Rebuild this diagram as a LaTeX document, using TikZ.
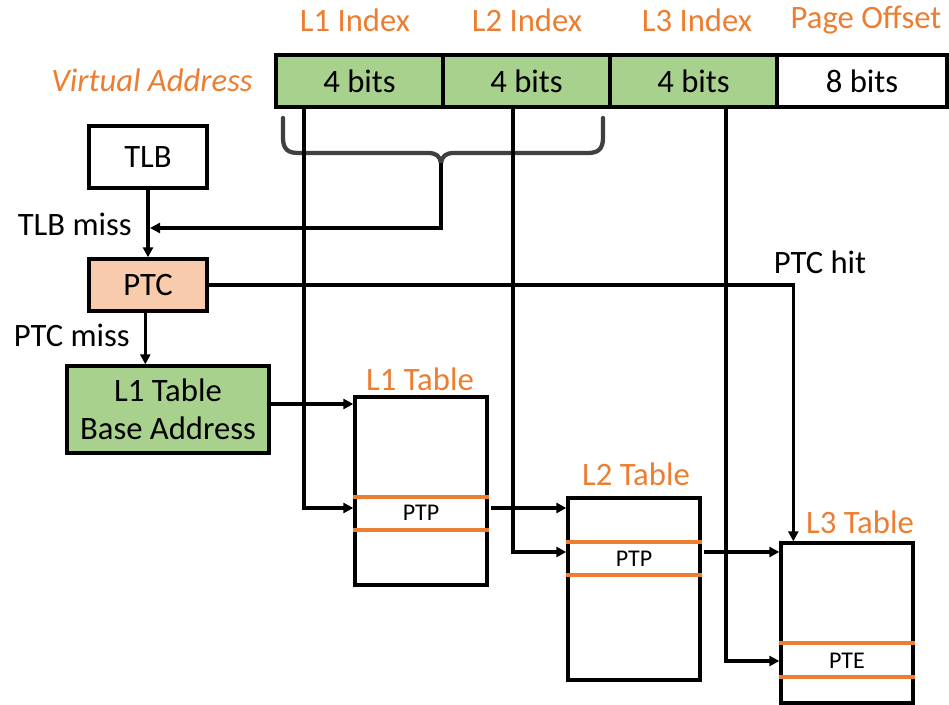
\documentclass[tikz,border=0pt]{standalone}
\usepackage{fontspec}
\setmainfont{Carlito}
\usetikzlibrary{arrows.meta}
\definecolor{vorange}{HTML}{ED7D31}
\definecolor{vgreen}{HTML}{A9D18E}
\definecolor{vpeach}{HTML}{F8CBAD}
\definecolor{bracegray}{HTML}{404040}
\tikzset{
  box/.style={draw=black, line width=2.5pt, inner sep=0pt, align=center, font=\fontsize{24.5}{28.8}\selectfont},
  cell/.style={box, minimum width=125.25pt, minimum height=39pt},
  tablebox/.style={draw=black, line width=2.5pt, minimum width=99pt, inner sep=0pt},
  arr/.style={line width=2.5pt, -{Triangle[length=7.5pt,width=7.5pt]}},
  rowline/.style={draw=vorange, line width=2.5pt},
  lbl/.style={inner sep=0pt, font=\fontsize{24.5}{28.8}\selectfont},
  olbl/.style={lbl, text=vorange},
  small/.style={inner sep=0pt, font=\fontsize{18}{21}\selectfont},
  brace/.style={draw=bracegray, line width=3.2pt, line cap=round, line join=round}
}
\begin{document}
\begin{tikzpicture}[x=0.75pt,y=-0.75pt]
\useasboundingbox (0,0) rectangle (949,705);

% virtual address bar
\node[cell, fill=vgreen] (c1) at (359.5,81) {4 bits};
\node[cell, fill=vgreen] (c2) at (526.5,81) {4 bits};
\node[cell, fill=vgreen] (c3) at (693.5,81) {4 bits};
\node[cell, fill=white, minimum width=127.5pt] (c4) at (862,81) {8 bits};

\node[olbl] (h1) at (355,20) {L1 Index};
\node[olbl] (h2) at (527,20) {L2 Index};
\node[olbl] (h3) at (697,20) {L3 Index};
\node[olbl] (h4) at (866,20) {Page Offset};
\node[olbl, anchor=east, font=\fontsize{24.5}{28.8}\selectfont\itshape] (va) at (253,80) {Virtual Address};

% left column
\node[box, minimum width=88.5pt, minimum height=46.5pt] (tlb) at (148,157) {TLB};
\node[box, fill=vpeach, minimum width=88.5pt, minimum height=39pt] (ptc) at (148,285) {PTC};
\node[box, fill=vgreen, minimum width=151.5pt, minimum height=65.25pt] (base) at (168,409.5) {L1 Table\\Base Address};

\node[lbl, anchor=east] (tlbmiss) at (132,224) {TLB miss};
\node[lbl, anchor=east] (ptcmiss) at (130,335) {PTC miss};
\node[lbl] (ptchit) at (820,262) {PTC hit};

% tables
\node[tablebox, minimum height=141pt] (l1) at (421,491) {};
\node[tablebox, minimum height=136.5pt] (l2) at (634,589) {};
\node[tablebox, minimum height=120pt] (l3) at (847,623) {};

\node[olbl] (t1) at (420,379) {L1 Table};
\node[olbl] (t2) at (636,474) {L2 Table};
\node[olbl] (t3) at (860,522) {L3 Table};

% row helper coordinates
\coordinate (y497) at (0,497);
\coordinate (y530) at (0,530);
\coordinate (y542) at (0,542);
\coordinate (y575) at (0,575);
\coordinate (y643) at (0,643);
\coordinate (y677) at (0,677);
\draw[rowline] (l1.west |- y497) -- (l1.east |- y497);
\draw[rowline] (l1.west |- y530) -- (l1.east |- y530);
\draw[rowline] (l2.west |- y542) -- (l2.east |- y542);
\draw[rowline] (l2.west |- y575) -- (l2.east |- y575);
\draw[rowline] (l3.west |- y643) -- (l3.east |- y643);
\draw[rowline] (l3.west |- y677) -- (l3.east |- y677);

\node[small] (ptp1) at (421,513) {PTP};
\node[small] (ptp2) at (634,559) {PTP};
\node[small] (pte) at (847,661) {PTE};

% brace
\draw[brace] (283,118) -- (283,138) .. controls (283,149) and (288,153) .. (298,153)
  -- (428,153) .. controls (436,153) and (440,156) .. (441,163)
  .. controls (442,156) and (446,153) .. (454,153)
  -- (588,153) .. controls (598,153) and (603,149) .. (603,138) -- (603,118);
\coordinate (bt) at (441,163);
\coordinate (miss) at (150,228);
\draw[arr] (bt) |- (miss);

% left column connectors
\draw[arr] (tlb) -- (ptc);
\draw[arr] ([xshift=-2pt]ptc.south) -- ([xshift=-2pt]ptc.south |- base.north);
\coordinate (y404) at (0,404);
\draw[arr] (base.east |- y404) -- (l1.west |- y404);

% PTC hit
\draw[arr] (ptc.east) -| ([xshift=10.5pt]l3.north west);

% index lines
\coordinate (x1) at (304,0);
\coordinate (x2) at (513,0);
\coordinate (x3) at (726,0);
\coordinate (r1) at (0,508);
\coordinate (r2) at (0,552);
\coordinate (r3) at (0,661);
\draw[arr] (c1.south -| x1) |- (l1.west |- r1);
\draw[arr] (c2.south -| x2) |- (l2.west |- r2);
\draw[arr] (c3.south -| x3) |- (l3.west |- r3);

% table to table
\draw[arr] ([xshift=2pt]l1.east |- r1) -- (l2.west |- r1);
\draw[arr] ([xshift=2pt]l2.east |- r2) -- (l3.west |- r2);
\end{tikzpicture}
\end{document}
